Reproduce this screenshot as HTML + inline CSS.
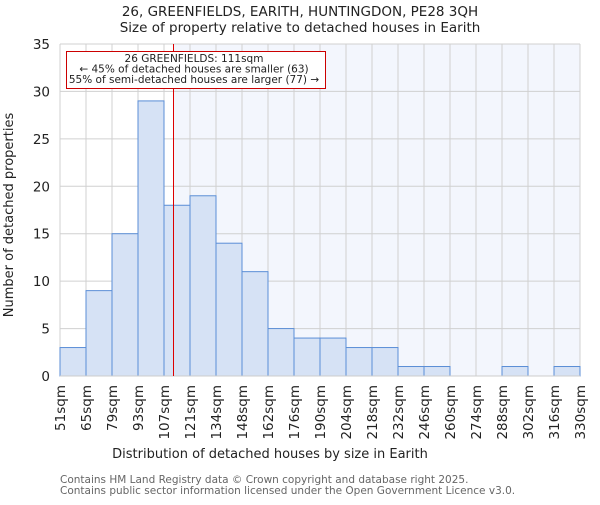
<!DOCTYPE html>
<html><head><meta charset="utf-8"><style>
body{margin:0;background:#fff}
svg{font-family:"DejaVu Sans","Liberation Sans",sans-serif}
</style></head><body>
<svg width="600" height="500">
<text x="300" y="16" text-anchor="middle" font-size="13.5" fill="#222">26, GREENFIELDS, EARITH, HUNTINGDON, PE28 3QH</text>
<text x="300" y="32" text-anchor="middle" font-size="13.5" fill="#222">Size of property relative to detached houses in Earith</text>
<g id="plot"></g>
<text x="270" y="458" text-anchor="middle" font-size="13" fill="#222">Distribution of detached houses by size in Earith</text>
<text transform="translate(13,215) rotate(-90)" text-anchor="middle" font-size="13" fill="#222">Number of detached properties</text>
<text x="60" y="483" font-size="10.5" fill="#666">Contains HM Land Registry data © Crown copyright and database right 2025.</text>
<text x="60" y="494" font-size="10.5" fill="#666">Contains public sector information licensed under the Open Government Licence v3.0.</text>
</svg>
<script>
const edges=[51,65,79,93,107,121,134,148,162,176,190,204,218,232,246,260,274,288,302,316,330];
const counts=[3,9,15,29,18,19,14,11,5,4,4,3,3,1,1,0,0,1,0,1];
const yTicks=[0,5,10,15,20,25,30,35];
const subject=111;
const X0=60,W=520,Y0=376,H=332,YMAX=35;
const NS="http://www.w3.org/2000/svg";
const g=document.getElementById('plot');
function xi(i){return X0+i*W/(edges.length-1);}
function xv(v){for(let i=0;i<edges.length-1;i++){if(v<=edges[i+1])return xi(i)+(v-edges[i]+1)/(edges[i+1]-edges[i])*(W/(edges.length-1));}return X0+W;}
function y(v){return Y0-v/YMAX*H;}
function mk(t,a){const e=document.createElementNS(NS,t);for(const k in a)e.setAttribute(k,a[k]);g.appendChild(e);return e;}
const sx=Math.round(xv(subject))+0.5;
let e;
e=mk('rect',{x:X0,y:Y0-H,width:sx-X0,height:H,fill:'#ffffff'});


e=mk('rect',{x:sx,y:Y0-H,width:X0+W-sx,height:H,fill:'#f3f6fd'});


yTicks.forEach(t=>{
 e=mk('line',{x1:X0,x2:X0+W,y1:y(t),y2:y(t),stroke:'#d0d0d0','stroke-width':1});
 
 
 e=mk('text',{x:50,y:y(t)+5,'text-anchor':'end','font-size':13.5,fill:'#222'});
 e.textContent=t;
 
 
});
edges.forEach((v,i)=>{
 e=mk('line',{x1:xi(i),x2:xi(i),y1:Y0-H,y2:Y0,stroke:'#d0d0d0','stroke-width':1});
 
 
 e=mk('text',{transform:`translate(${xi(i)+5},385) rotate(-90)`,'text-anchor':'end','font-size':13.5,fill:'#222'});
 e.textContent=v+'sqm';
 
 
});
counts.forEach((c,i)=>{
 if(c<=0)return;
 e=mk('rect',{x:xi(i),y:y(c),width:xi(i+1)-xi(i),height:Y0-y(c),fill:'#d6e2f5',stroke:'#5b8ed6','stroke-width':1});
 
 
});
e=mk('line',{x1:X0,x2:X0+W,y1:Y0,y2:Y0,stroke:'#cccccc','stroke-width':1});


e=mk('line',{x1:sx,x2:sx,y1:Y0-H,y2:Y0,stroke:'#dd0000','stroke-width':1});


e=mk('rect',{x:66.5,y:51.5,width:259,height:37,fill:'#fff',stroke:'#cc0000','stroke-width':1});


const lines=['26 GREENFIELDS: '+subject+'sqm','← 45% of detached houses are smaller (63)','55% of semi-detached houses are larger (77) →'];
lines.forEach((l,i)=>{
 e=mk('text',{x:194,y:62+i*10.5,'text-anchor':'middle','font-size':10.5,fill:'#222'});
 e.textContent=l;
 
 
});
</script>
</body></html>
